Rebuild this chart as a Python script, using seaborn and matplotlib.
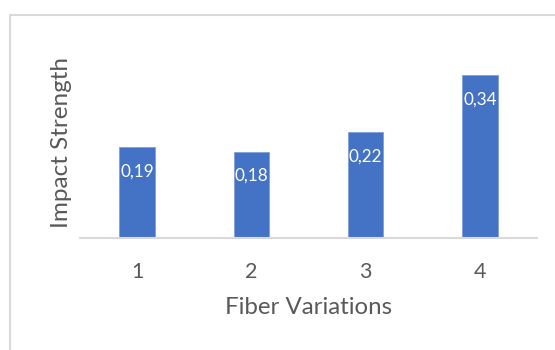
import matplotlib
matplotlib.use("Agg")
import matplotlib.pyplot as plt
import seaborn as sns
import pandas as pd
from matplotlib.lines import Line2D

categories = ["1", "2", "3", "4"]
values = [0.19, 0.18, 0.22, 0.34]
value_labels = ["0,19", "0,18", "0,22", "0,34"]

sns.set_theme(style="white")
plt.rcParams["font.family"] = ["Lato", "DejaVu Sans"]

df = pd.DataFrame({"Fiber Variations": categories, "Impact Strength": values})

fig = plt.figure(figsize=(5.55, 3.5), dpi=100)
ax = fig.add_axes([80/555, 1-238/350, 457/555, 192/350])

sns.barplot(data=df, x="Fiber Variations", y="Impact Strength", color="#4472C4",
            saturation=1, width=0.31, ax=ax, edgecolor="#7F9FD8", linewidth=0.6)

ax.set_ylim(0, 0.4)
ax.set_xlim(-0.5, 3.5)
ax.set_yticks([])
for s in ["top", "right", "left"]:
    ax.spines[s].set_visible(False)
ax.spines["bottom"].set_color("#D9D9D9")
ax.spines["bottom"].set_linewidth(1.5)
ax.tick_params(axis="x", length=0, pad=17, labelsize=15.5, labelcolor="#595959")

for i, (v, lab) in enumerate(zip(values, value_labels)):
    ax.annotate(lab, xy=(i, v), xytext=(0, -17.6), textcoords="offset points",
                ha="center", va="center", color="white", fontsize=12.3)

ax.set_xlabel("Fiber Variations", fontsize=17.3, color="#595959", va="center")
ax.xaxis.set_label_coords(0.5, -(307-238)/192)
ax.set_ylabel("Impact Strength", fontsize=17.5, color="#595959", va="center")
ax.yaxis.set_label_coords((61-80)/457, 0.5)

fig.add_artist(Line2D([10/555, 1], [1-14.7/350, 1-14.7/350], color="#D9D9D9", lw=1.5, transform=fig.transFigure))
fig.add_artist(Line2D([10/555, 10/555], [0, 1-14.7/350], color="#D9D9D9", lw=1.5, transform=fig.transFigure))

fig.savefig("out.png", dpi=100, facecolor="white")
